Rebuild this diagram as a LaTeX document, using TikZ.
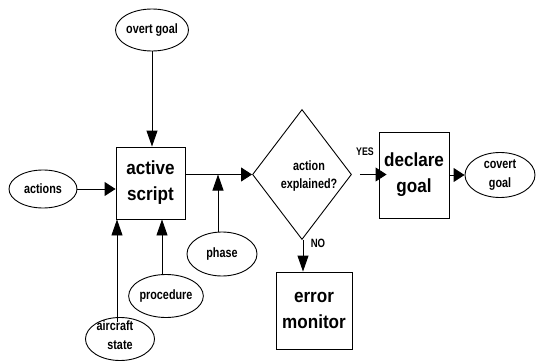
\documentclass[tikz,border=0pt]{standalone}
\usepackage{fontspec}
\setmainfont{Liberation Sans}
\newfontfamily\smallf{Liberation Sans}[FakeStretch=0.8]
\newfontfamily\bigf{Liberation Sans}[FakeStretch=0.9]
\usetikzlibrary{shapes.geometric,arrows.meta}
\begin{document}
\begin{tikzpicture}[x=1pt,y=-1pt, line width=0.9pt,
  box/.style={draw, rectangle, inner sep=0pt, align=center,
    font=\bigf\bfseries\fontsize{19}{26}\selectfont},
  oval/.style={draw, ellipse, inner sep=0pt, align=center,
    font=\smallf\bfseries\fontsize{13.5}{19}\selectfont},
  txt/.style={inner sep=0pt, align=center,
    font=\smallf\bfseries\fontsize{13.5}{18}\selectfont},
  harr/.style={-{Triangle[length=11pt,width=14pt]}},
  varr/.style={-{Triangle[length=16pt,width=11pt]}}]
\useasboundingbox (0,0) rectangle (536,361);
% nodes
\node[oval, minimum width=68pt, minimum height=42pt] (og) at (152,30) {overt goal};
\node[oval, minimum width=68pt, minimum height=38pt] (ac) at (43,189) {actions};
\node[box, minimum width=69pt, minimum height=72pt] (as) at (150.5,183) {active\\script};
\node[draw, diamond, inner sep=0pt, minimum width=99pt, minimum height=130pt] (dm) at (302,174.5) {};
\node[txt] (dmt) at (309,176) {action\\explained?};
\node[oval, minimum width=70pt, minimum height=44pt] (ph) at (222,254) {phase};
\node[oval, minimum width=72pt, minimum height=43pt] (pr) at (166,296) {procedure};
\node[oval, minimum width=69pt, minimum height=43pt] (acs) at (120,339) {};
\node[txt] (acst1) at (115,326) {aircraft};
\node[txt] (acst2) at (120,345) {state};
\node[box, minimum width=70pt, minimum height=86pt] (dg) at (414,175) {declare\\goal};
\node[oval, minimum width=70pt, minimum height=45pt] (cg) at (500,175) {covert\\goal};
\node[box, minimum width=76pt, minimum height=77pt] (em) at (314,310.5) {error\\monitor};
\node[txt, font=\smallf\bfseries\fontsize{11}{12}\selectfont] (yes) at (365,152) {YES};
\node[txt, font=\smallf\bfseries\fontsize{12}{12}\selectfont] (no) at (318,243) {NO};
% connectors
\draw[varr] (og.south) -- (og.south |- as.north);
\draw[harr] (ac.east) -- (ac.east -| as.west);
\draw[harr] (as.east |- dm.west) -- (dm.west);
\draw[varr] ([xshift=-4pt]ph.north) -- ([xshift=-4pt]ph.north |- dm.west);
\draw[varr] ([xshift=-4pt]pr.north) -- ([xshift=-4pt]pr.north |- as.south);
\draw[varr] ([shift={(-3,5)}]acs.north) -- ([xshift=-3pt]acs.north |- as.south);
\draw[harr] ([xshift=8pt]dm.east) -- ([xshift=8pt]dm.east -| dg.west);
\draw[harr] (dg.east) -- (cg.west);
\draw[varr] ([xshift=1pt]dm.south) -- ([xshift=1pt]dm.south |- em.north);
\end{tikzpicture}
\end{document}
